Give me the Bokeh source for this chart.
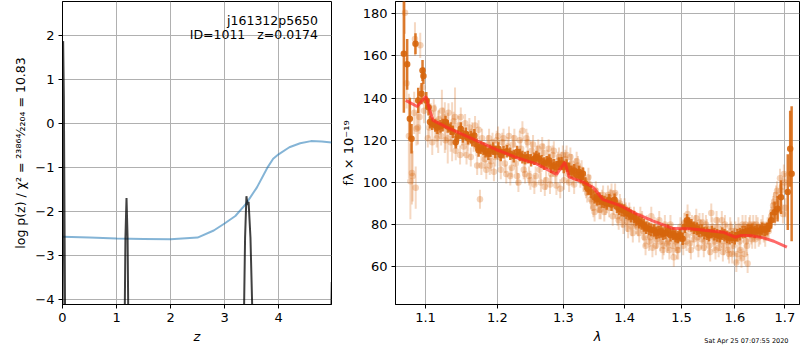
from bokeh.plotting import figure
from bokeh.layouts import row
from bokeh.models import ColumnDataSource, FixedTicker, PrintfTickFormatter, Label, Range1d, Title
from bokeh.embed import file_html
from bokeh.resources import INLINE

FONT = "DejaVu Sans"

# ---------------- left panel: redshift fit ----------------
pz_z = [0.0, 0.012, 0.025, 0.055, 0.5, 1.14, 1.165, 1.185, 1.205, 1.23, 2.5,
        3.34, 3.38, 3.405, 3.425, 3.445, 3.48, 3.55, 4.5, 4.955, 4.985]
pz_logp = [-6.0, 1.87, 0.6, -6.0, -8.0, -6.0, -2.6, -1.69, -2.6, -6.0, -8.0,
           -6.0, -2.6, -1.65, -1.85, -1.78, -2.6, -6.0, -8.0, -6.0, -3.6]

chi_z = [0.0, 0.5, 1.0, 1.5, 2.0, 2.5, 2.8, 3.0, 3.2, 3.4, 3.6, 3.8, 3.9, 4.0,
         4.2, 4.4, 4.6, 4.8, 4.98]
chi_curve = [-2.57, -2.59, -2.61, -2.62, -2.63, -2.59, -2.43, -2.27, -2.1, -1.82,
             -1.45, -0.99, -0.80, -0.70, -0.54, -0.45, -0.40, -0.41, -0.43]

left_xticks = [0, 1, 2, 3, 4]
left_yticks = [-4, -3, -2, -1, 0, 1, 2]
left_ytick_labels = ["\u22124", "\u22123", "\u22122", "\u22121", "0", "1", "2"]

obj_name = "j161312p5650"
obj_info = "ID=1011\u00a0\u00a0\u00a0z=0.0174"
left_ylabel = "log p(z) / \u03c7\u00b2 = \u00b2\u00b3\u2078\u2076\u2074\u2044\u2082\u2082\u2080\u2084 = 10.83"
left_xlabel = "z"

# ---------------- right panel: spectrum ----------------
model_wave = [1.0740, 1.0889, 1.1003, 1.1057, 1.1101, 1.1283, 1.1512, 1.1748, 1.1988,
              1.2331, 1.2583, 1.2892, 1.3023, 1.3091, 1.3315, 1.3476, 1.3641, 1.3919,
              1.4204, 1.4497, 1.4851, 1.5155, 1.5466, 1.5780, 1.6006, 1.6103, 1.6299,
              1.6564, 1.6775, 1.7042]
model_flux = [138.9, 136.0, 140.8, 134.1, 129.4, 126.2, 122.7, 119.1, 115.5,
              111.2, 108.8, 103.8, 109.6, 102.5, 100.1, 97.7, 91.8, 89.1,
              85.1, 81.6, 78.1, 78.0, 77.2, 76.4, 74.0, 74.8, 74.8,
              73.7, 72.1, 69.3]

# binned spectrum (dark points)
bin_wave = [1.0715, 1.0758, 1.0793, 1.0815, 1.0867, 1.0903, 1.0947, 1.0960, 1.0972,
            1.1010, 1.1040, 1.106, 1.113, 1.120, 1.127, 1.134, 1.141, 1.148, 1.155,
            1.162, 1.167, 1.173, 1.180, 1.187, 1.194, 1.2015, 1.209, 1.219, 1.229,
            1.237, 1.245, 1.255, 1.262, 1.270, 1.278, 1.285, 1.293, 1.3005, 1.309,
            1.317, 1.325, 1.331, 1.339, 1.350, 1.358, 1.366, 1.374, 1.383, 1.391,
            1.399, 1.407, 1.416, 1.425, 1.433, 1.442, 1.451, 1.459, 1.467, 1.476,
            1.485, 1.493, 1.502, 1.510, 1.518, 1.528, 1.537, 1.547, 1.556, 1.566,
            1.576, 1.585, 1.595, 1.605, 1.615, 1.625, 1.634, 1.644, 1.654, 1.664,
            1.672, 1.679, 1.685, 1.692, 1.706, 1.711, 1.714,
            1.109, 1.116, 1.123, 1.130, 1.137, 1.144, 1.151, 1.158, 1.164, 1.170,
            1.176, 1.183, 1.190, 1.197, 1.205, 1.214, 1.224, 1.233, 1.241, 1.250,
            1.258, 1.266, 1.274, 1.281, 1.289, 1.297, 1.305, 1.313, 1.321, 1.328,
            1.335, 1.344, 1.354, 1.362, 1.370, 1.378, 1.387, 1.395, 1.403, 1.411,
            1.420, 1.429, 1.437, 1.446, 1.455, 1.463, 1.471, 1.480, 1.489, 1.497,
            1.506, 1.514, 1.523, 1.532, 1.542, 1.551, 1.561, 1.571, 1.580, 1.590,
            1.600, 1.610, 1.620, 1.630, 1.639, 1.649, 1.659, 1.668]
bin_flux = [161.0, 156.0, 130.2, 120.7, 165.8, 138.9, 142.1, 153.1, 150.5,
            138.9, 135.7, 128.6, 127.0, 126.6, 128.6, 125.5, 119.1, 125.5, 123.1,
            121.5, 122.3, 115.2, 116.0, 113.6, 116.0, 116.0, 114.4, 113.6, 114.4,
            112.0, 112.0, 111.2, 111.2, 108.9, 110.4, 108.1, 108.9, 107.3, 106.5,
            105.7, 104.9, 104.1, 97.0, 93.0, 92.3, 90.7, 91.5, 91.8, 87.5,
            86.7, 85.1, 83.6, 81.2, 79.6, 78.0, 77.2, 76.4, 75.7, 77.2,
            75.7, 74.1, 73.3, 82.0, 79.6, 78.0, 77.2, 75.7, 76.4, 74.9,
            75.7, 74.1, 74.1, 74.9, 76.4, 77.2, 77.5, 77.2, 78.0, 78.0,
            82.0, 85.9, 87.5, 93.0, 95.4, 116.0, 104.1,
            127.8, 126.0, 127.2, 126.5, 124.0, 122.0, 121.8, 121.0, 120.0, 118.0,
            116.5, 114.8, 115.0, 114.5, 113.0, 114.8, 112.5, 113.0, 111.5, 110.5,
            112.0, 110.0, 109.5, 107.5, 107.2, 109.0, 108.0, 105.0, 103.5, 102.5,
            99.5, 95.5, 92.0, 91.0, 90.0, 89.5, 88.5, 87.0, 85.5, 84.0,
            82.5, 80.5, 78.5, 77.5, 76.0, 76.8, 76.0, 75.0, 74.5, 75.0,
            79.0, 80.5, 78.5, 77.0, 76.0, 75.0, 75.5, 74.5, 75.0, 73.5,
            73.5, 75.5, 76.5, 77.0, 76.5, 77.0, 77.5, 79.5]
bin_err = [28, 12, 10, 7, 5, 6, 5, 5, 4,
           4, 4] + [3] * 75 + [3] * 68
bin_err[79:86] = [4, 5, 6, 8, 18, 18, 32]

# individual exposures (light points)
raw_wave = [1.073, 1.075, 1.078, 1.080, 1.082, 1.083, 1.085, 1.086, 1.087, 1.088,
            1.090, 1.092, 1.093, 1.096, 1.098,
            1.103, 1.107, 1.111, 1.115, 1.118, 1.121, 1.124, 1.127, 1.131, 1.134,
            1.138, 1.141, 1.145, 1.148, 1.152, 1.156, 1.160, 1.164, 1.168, 1.171,
            1.175, 1.178, 1.182, 1.186, 1.189, 1.193, 1.197,
            1.201, 1.205, 1.209, 1.213, 1.217, 1.221, 1.225, 1.229, 1.233, 1.237,
            1.241, 1.245, 1.249, 1.253, 1.257, 1.261, 1.265, 1.269, 1.273, 1.277,
            1.281, 1.285, 1.289, 1.293, 1.297,
            1.303, 1.307, 1.311, 1.315, 1.319, 1.323, 1.327, 1.332, 1.336, 1.340,
            1.344, 1.348, 1.352, 1.356, 1.360, 1.364, 1.368, 1.372, 1.376, 1.380,
            1.384, 1.388, 1.392, 1.396,
            1.400, 1.404, 1.408, 1.412, 1.416, 1.420, 1.425, 1.430, 1.434, 1.438,
            1.442, 1.446, 1.450, 1.454, 1.458, 1.462, 1.466, 1.470, 1.474, 1.478,
            1.482, 1.486, 1.490, 1.494, 1.498,
            1.503, 1.507, 1.511, 1.515, 1.519, 1.523, 1.527, 1.531, 1.535, 1.539,
            1.543, 1.547, 1.551, 1.555, 1.559, 1.563, 1.567, 1.571, 1.575, 1.579,
            1.583, 1.587, 1.591, 1.595, 1.599,
            1.603, 1.607, 1.611, 1.615, 1.619, 1.622, 1.625, 1.628, 1.632, 1.636,
            1.640, 1.645, 1.650, 1.655, 1.660, 1.665, 1.670, 1.674, 1.678, 1.682,
            1.686, 1.690, 1.694, 1.698, 1.701,
            1.105, 1.109, 1.113, 1.117, 1.122, 1.126, 1.130, 1.136, 1.140, 1.143,
            1.147, 1.150, 1.154, 1.158, 1.162, 1.166, 1.170, 1.173, 1.177, 1.180,
            1.184, 1.188, 1.191, 1.195, 1.199,
            1.203, 1.207, 1.211, 1.215, 1.219, 1.223, 1.227, 1.231, 1.235, 1.239,
            1.243, 1.247, 1.251, 1.255, 1.259, 1.263, 1.267, 1.271, 1.275, 1.279,
            1.283, 1.287, 1.291, 1.295, 1.299,
            1.301, 1.305, 1.309, 1.313, 1.317, 1.321, 1.325, 1.329, 1.334, 1.338,
            1.342, 1.346, 1.350, 1.354, 1.358, 1.362, 1.366, 1.370, 1.374, 1.378,
            1.382, 1.386, 1.390, 1.394, 1.398,
            1.402, 1.406, 1.410, 1.414, 1.418, 1.423, 1.427, 1.432, 1.436, 1.440,
            1.444, 1.448, 1.452, 1.456, 1.460, 1.464, 1.468, 1.472, 1.476, 1.480,
            1.484, 1.488, 1.492, 1.496,
            1.501, 1.505, 1.509, 1.513, 1.517, 1.521, 1.525, 1.529, 1.533, 1.537,
            1.541, 1.545, 1.549, 1.553, 1.557, 1.561, 1.565, 1.569, 1.573, 1.577,
            1.581, 1.585, 1.589, 1.593, 1.597,
            1.601, 1.605, 1.609, 1.613, 1.617, 1.621, 1.624, 1.627, 1.630, 1.634,
            1.638, 1.642, 1.647, 1.652, 1.657, 1.662, 1.667, 1.672, 1.676, 1.680,
            1.684, 1.688, 1.692, 1.696, 1.700]
raw_flux = [180.5, 147.0, 122.0, 100.5, 104.5, 103.0, 133.0, 168.0, 97.5, 125.5,
            126.0, 131.0, 165.0, 145.0, 134.0,
            121.0, 133.0, 135.0, 121.0, 130.0, 122.0, 131.0, 120.0, 133.0, 119.0,
            129.0, 115.0, 127.0, 131.0, 117.0, 113.0, 126.0, 124.0, 127.0, 108.0,
            92.0, 121.0, 111.0, 118.0, 108.0, 119.0, 112.0,
            122.0, 106.0, 121.0, 104.0, 122.0, 107.0, 121.0, 103.0, 120.0, 124.5,
            104.0, 119.0, 101.0, 118.0, 103.0, 116.0, 100.0, 114.0, 101.0, 116.0,
            104.0, 115.0, 98.5, 112.0, 110.0,
            111.0, 104.0, 112.0, 103.0, 107.0, 108.0, 102.0, 100.0, 97.0, 102.5,
            92.0, 88.0, 96.0, 90.0, 87.0, 94.0, 89.0, 94.0, 92.5, 84.0,
            95.0, 84.0, 90.0, 83.0,
            88.0, 81.0, 86.0, 79.0, 84.0, 80.0, 76.0, 82.0, 74.0, 80.0,
            72.0, 84.0, 75.0, 70.0, 78.0, 72.0, 68.0, 80.0, 71.0, 68.0,
            76.0, 64.5, 72.0, 68.0, 79.0,
            70.0, 75.0, 85.0, 71.0, 80.0, 73.0, 83.0, 69.0, 78.0, 81.0,
            72.0, 78.0, 70.0, 85.5, 74.0, 68.0, 79.0, 72.0, 82.0, 70.0,
            76.0, 68.0, 79.0, 66.0, 74.0,
            62.0, 79.0, 68.0, 80.0, 66.0, 72.0, 61.5, 79.0, 75.0, 80.0,
            73.0, 79.0, 75.0, 80.0, 74.0, 79.0, 81.0, 86.0, 91.0, 94.0,
            87.0, 102.0, 98.0, 104.0, 88.0,
            126.0, 119.0, 129.0, 124.0, 134.0, 126.0, 121.0, 124.0, 131.0, 121.0,
            113.0, 122.0, 128.0, 119.0, 112.0, 119.0, 117.0, 125.0, 108.0, 114.0,
            106.0, 121.0, 110.0, 105.0, 120.0,
            112.0, 119.0, 109.0, 117.0, 103.0, 118.0, 109.0, 100.0, 116.0, 106.0,
            121.0, 103.0, 115.0, 99.0, 113.0, 106.0, 117.0, 98.0, 111.0, 99.0,
            113.0, 104.0, 110.0, 97.0, 113.0,
            101.0, 113.0, 100.0, 109.0, 99.0, 110.0, 104.0, 106.0, 101.0, 95.0,
            99.0, 91.0, 86.0, 93.0, 87.0, 92.0, 86.0, 90.0, 88.0, 95.0,
            89.0, 91.0, 82.0, 88.0, 80.0,
            86.0, 78.0, 84.0, 76.0, 82.0, 79.0, 84.0, 77.0, 70.0, 78.0,
            74.0, 69.0, 79.0, 73.0, 82.0, 75.0, 70.0, 76.0, 72.0, 80.0,
            70.0, 74.0, 68.0, 73.0,
            77.0, 81.0, 72.0, 78.0, 68.0, 76.0, 80.0, 74.0, 81.0, 73.0,
            69.0, 80.0, 75.0, 67.0, 79.0, 72.0, 82.0, 69.0, 75.0, 67.0,
            80.0, 72.0, 66.0, 77.0, 70.0,
            77.0, 66.0, 72.0, 64.0, 76.0, 80.0, 70.0, 76.0, 80.0, 73.0,
            77.0, 80.0, 74.0, 78.0, 76.0, 77.0, 77.0, 84.0, 89.0, 84.0,
            96.0, 90.0, 96.0, 85.0, 100.0]
raw_err = ([10, 12, 20, 18, 15, 12, 10, 8, 10, 8, 8, 8, 6, 6, 6]
           + [4.5] * 151
           + [5, 6, 8, 10, 10, 12, 12, 14, 14]
           + [4.5] * 148
           + [6, 7, 8, 10, 10, 12, 12, 14])

right_xticks = [1.1, 1.2, 1.3, 1.4, 1.5, 1.6, 1.7]
right_yticks = [60, 80, 100, 120, 140, 160, 180]
right_xlabel = "\u03bb"
right_ylabel = "f\u03bb \u00d7 10\u207b\u00b9\u2079"
timestamp = "Sat Apr 25 07:07:55 2020"

DARK = "#d6650c"
MODEL = "#ff2a2a"


def style(p):
    p.outline_line_color = "black"
    p.outline_line_width = 1
    p.outline_line_alpha = 1
    p.grid.grid_line_color = "#b0b0b0"
    p.grid.grid_line_width = 1
    p.axis.axis_line_color = "black"
    p.axis.major_tick_line_color = "black"
    p.axis.major_tick_out = 4
    p.axis.major_tick_in = 0
    p.axis.minor_tick_line_color = None
    p.axis.major_label_text_font = FONT
    p.axis.major_label_text_font_size = "13px"
    p.axis.major_label_text_color = "black"
    p.axis.major_label_standoff = 4
    p.axis.axis_label_text_font = FONT
    p.axis.axis_label_text_font_size = "13px"
    p.axis.axis_label_text_color = "black"
    p.axis.axis_label_standoff = 4
    p.yaxis.axis_label_text_font_style = "normal"
    p.xaxis.axis_label_text_font_style = "italic"


# left figure
p1 = figure(width=336, height=350, output_backend="svg", toolbar_location=None, title=None,
            x_range=Range1d(0, 4.98), y_range=Range1d(-4.11, 2.77),
            min_border_left=62, min_border_right=5, min_border_top=1, min_border_bottom=46)
style(p1)
p1.xaxis.ticker = FixedTicker(ticks=left_xticks)
p1.yaxis.ticker = FixedTicker(ticks=left_yticks)
p1.yaxis.major_label_overrides = dict(zip(left_yticks, left_ytick_labels))
p1.xaxis.axis_label = left_xlabel
p1.yaxis.axis_label = left_ylabel
p1.yaxis.axis_label_text_font_size = "12.5px"
p1.line(chi_z, chi_curve, line_color="#1f77b4", line_alpha=0.55, line_width=2)
p1.line(pz_z, pz_logp, line_color="black", line_alpha=0.75, line_width=2)
p1.add_layout(Label(x=4.73, y=2.34, text=obj_name, text_align="right", text_baseline="middle",
                    text_font=FONT, text_font_size="12.5px", text_color="black"))
p1.add_layout(Label(x=4.73, y=2.02, text=obj_info, text_align="right", text_baseline="middle",
                    text_font=FONT, text_font_size="12.5px", text_color="black"))

# right figure
p2 = figure(width=464, height=350, output_backend="svg", toolbar_location=None, title=None,
            x_axis_type="log", x_range=Range1d(1.0607, 1.7304), y_range=Range1d(42.1, 185.8),
            min_border_left=59, min_border_right=1, min_border_top=1, min_border_bottom=46)
style(p2)
p2.xaxis.ticker = FixedTicker(ticks=right_xticks)
p2.xaxis.formatter = PrintfTickFormatter(format="%.1f")
p2.yaxis.ticker = FixedTicker(ticks=right_yticks)
p2.xaxis.axis_label = right_xlabel
p2.yaxis.axis_label = right_ylabel

raw_src = ColumnDataSource(dict(
    x=raw_wave, y=raw_flux,
    lo=[f - e for f, e in zip(raw_flux, raw_err)],
    hi=[f + e for f, e in zip(raw_flux, raw_err)]))
bin_src = ColumnDataSource(dict(
    x=bin_wave, y=bin_flux,
    lo=[f - e for f, e in zip(bin_flux, bin_err)],
    hi=[f + e for f, e in zip(bin_flux, bin_err)]))

p2.segment(x0="x", y0="lo", x1="x", y1="hi", source=raw_src,
           line_color=DARK, line_alpha=0.25, line_width=2)
p2.scatter(x="x", y="y", source=raw_src, size=6.5, fill_color=DARK, fill_alpha=0.28, line_color=None)
p2.segment(x0="x", y0="lo", x1="x", y1="hi", source=bin_src,
           line_color=DARK, line_alpha=0.85, line_width=2.5)
p2.scatter(x="x", y="y", source=bin_src, size=6.5, fill_color=DARK, fill_alpha=0.9, line_color=None)
p2.line(model_wave, model_flux, line_color=MODEL, line_alpha=0.7, line_width=3)

p2.add_layout(Title(text=timestamp, align="right", vertical_align="top", standoff=-20, offset=11,
                    text_font=FONT, text_font_size="6.5px", text_font_style="normal",
                    text_color="black"), "below")

layout = row(p1, p2)
open("out.html", "w").write(file_html(layout, INLINE))
